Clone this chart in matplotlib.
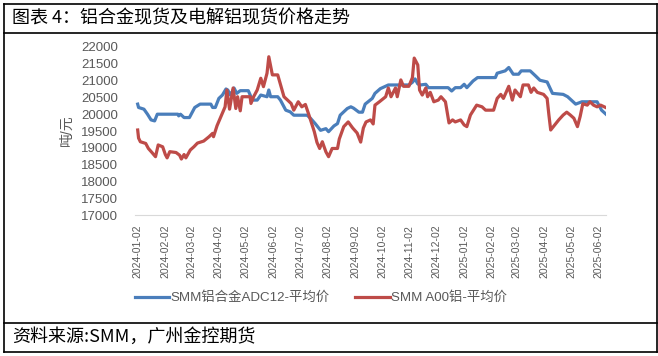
import matplotlib
matplotlib.use('Agg')
import matplotlib.pyplot as plt
from matplotlib.lines import Line2D
import pandas as pd

plt.rcParams['font.family'] = ['Liberation Sans', 'Noto Sans CJK SC', 'DejaVu Sans']

# 数据: 距 2024-01-02 的天数, 价格(元/吨)
base = pd.Timestamp('2024-01-02')

adc12_day = [0, 1, 7, 11, 15, 19, 22, 45, 46, 48, 52, 58, 62, 64, 67, 70, 82, 84, 87, 91,
             95, 99, 101, 104, 108, 111, 115, 124, 127, 129, 134, 138, 145, 147, 149, 157,
             160, 166, 171, 175, 190, 194, 199, 205, 211, 214, 220, 224, 227, 235, 239, 242,
             248, 252, 255, 263, 266, 272, 281, 304, 308, 311, 314, 317, 323, 326, 348, 352,
             356, 362, 366, 369, 376, 381, 401, 403, 412, 416, 421, 427, 430, 440, 446, 451,
             459, 465, 477, 482, 491, 498, 515, 520, 525]
adc12_val = [20300, 20200, 20150, 20000, 19830, 19800, 20000, 20000, 19950, 20000, 19900,
             19900, 20100, 20200, 20250, 20300, 20300, 20200, 20200, 20470, 20570, 20750,
             20720, 20570, 20780, 20620, 20700, 20700, 20520, 20420, 20420, 20570, 20520,
             20720, 20520, 20520, 20420, 20120, 20070, 19970, 19970, 19870, 19720, 19520,
             19570, 19480, 19650, 19720, 19970, 20170, 20220, 20180, 20060, 20060, 20300,
             20470, 20620, 20760, 20870, 20870, 20950, 21050, 20900, 20870, 20890, 20790,
             20790, 20690, 20790, 20790, 20890, 20790, 20990, 21090, 21090, 21220, 21290,
             21390, 21190, 21190, 21290, 21290, 21140, 21010, 20960, 20620, 20590, 20520,
             20300, 20370, 20370, 20120, 20000]

a00_day = [0, 1, 3, 9, 12, 16, 20, 23, 28, 31, 33, 36, 43, 47, 49, 52, 54, 59, 63, 67, 74,
           80, 84, 85, 89, 94, 98, 100, 103, 107, 110, 112, 115, 117, 126, 127, 130, 134,
           138, 141, 145, 147, 151, 157, 164, 168, 172, 175, 180, 184, 188, 192, 198, 201,
           204, 207, 211, 214, 218, 224, 226, 231, 236, 241, 246, 250, 253, 256, 261, 264,
           266, 271, 278, 281, 284, 289, 291, 295, 298, 304, 308, 310, 314, 316, 319, 323,
           325, 328, 332, 337, 340, 345, 349, 353, 356, 362, 366, 369, 373, 380, 386, 390,
           399, 403, 407, 410, 416, 420, 423, 429, 432, 438, 441, 444, 448, 455, 459, 461,
           463, 466, 472, 477, 481, 485, 489, 493, 496, 499, 504, 507, 511, 515, 519, 525]
a00_val = [19530, 19290, 19180, 19130, 18980, 18860, 18735, 19085, 19030, 18800, 18700,
           18885, 18860, 18780, 18665, 18800, 18700, 18935, 19030, 19140, 19200, 19330,
           19430, 19330, 19660, 19975, 20220, 20720, 20150, 20780, 20170, 20520, 20100,
           20520, 20520, 20320, 20520, 20720, 21070, 20820, 21220, 21710, 21170, 21170,
           20520, 20420, 20320, 20120, 20370, 20220, 20290, 19975, 19480, 19160, 18980,
           19180, 18880, 18735, 18980, 18980, 19260, 19630, 19770, 19590, 19440, 19170,
           19590, 19770, 19830, 19710, 20270, 20370, 20520, 20780, 20520, 20780, 20520,
           21020, 20830, 20830, 21090, 21670, 21465, 20720, 20570, 20780, 20520, 20650,
           20370, 20420, 20520, 20370, 19740, 19830, 19770, 19830, 19680, 19630, 19975,
           20270, 20220, 20120, 20120, 20470, 20590, 20470, 20830, 20420, 20720, 20520,
           20870, 20870, 20650, 20780, 20650, 20590, 20470, 19975, 19530, 19630, 19830,
           19975, 20060, 19975, 19880, 19630, 19930, 20310, 20270, 20370, 20270, 20220,
           20270, 20195]

tick_labels = ['2024-01-02', '2024-02-02', '2024-03-02', '2024-04-02', '2024-05-02',
               '2024-06-02', '2024-07-02', '2024-08-02', '2024-09-02', '2024-10-02',
               '2024-11-02', '2024-12-02', '2025-01-02', '2025-02-02', '2025-03-02',
               '2025-04-02', '2025-05-02', '2025-06-02']

adc12_dates = [base + pd.Timedelta(days=d) for d in adc12_day]
a00_dates = [base + pd.Timedelta(days=d) for d in a00_day]

fig = plt.figure(figsize=(6.58, 3.56), dpi=100)
ax = fig.add_axes([135 / 658, 1 - 215 / 356, 471 / 658, 168 / 356])

blue = '#4A7EBB'
red = '#BE4B48'
ax.plot(adc12_dates, adc12_val, color=blue, lw=2.3, label='SMM铝合金ADC12-平均价')
ax.plot(a00_dates, a00_val, color=red, lw=2.3, label='SMM A00铝-平均价')

ax.set_ylim(17000, 22000)
ax.set_yticks(range(17000, 22001, 500))
ax.set_xlim(base - pd.Timedelta(days=3), base + pd.Timedelta(days=525))
ax.set_xticks([pd.Timestamp(t) for t in tick_labels])
ax.set_xticklabels(tick_labels, rotation=90, fontsize=7.5, color='#595959')
ax.tick_params(axis='y', labelsize=9.5, labelcolor='#595959', length=0, pad=12)
ax.tick_params(axis='x', length=0, pad=7)

for s in ['top', 'right', 'left']:
    ax.spines[s].set_visible(False)
ax.spines['bottom'].set_color('#D9D9D9')

fig.text(67 / 658, 1 - 130 / 356, '吨/元', rotation=90, ha='center', va='center',
         fontsize=10, color='#595959')

leg = ax.legend(loc='center', bbox_to_anchor=(321 / 658, 1 - 298 / 356),
                bbox_transform=fig.transFigure, ncol=2, frameon=False,
                fontsize=9.6, handlelength=2.6, columnspacing=1.9, handletextpad=0.1)
for t in leg.get_texts():
    t.set_color('#595959')

# 外框
lc = 'black'
fig.add_artist(Line2D([4 / 658, 657 / 658], [1 - 3.5 / 356, 1 - 3.5 / 356], color=lc, lw=1.2))
fig.add_artist(Line2D([4 / 658, 657 / 658], [1 - 32.5 / 356, 1 - 32.5 / 356], color=lc, lw=1.2))
fig.add_artist(Line2D([4 / 658, 657 / 658], [1 - 322.5 / 356, 1 - 322.5 / 356], color=lc, lw=1.2))
fig.add_artist(Line2D([4 / 658, 657 / 658], [1 - 351.5 / 356, 1 - 351.5 / 356], color=lc, lw=1.2))
fig.add_artist(Line2D([4 / 658, 4 / 658], [1 - 3.5 / 356, 1 - 351.5 / 356], color=lc, lw=1.2))
fig.add_artist(Line2D([657 / 658, 657 / 658], [1 - 3.5 / 356, 1 - 351.5 / 356], color=lc, lw=1.2))

fig.text(12 / 658, 1 - 18 / 356, '图表 4：铝合金现货及电解铝现货价格走势', ha='left', va='center',
         fontsize=13, family=['Noto Sans CJK SC', 'DejaVu Sans'])
fig.text(12 / 658, 1 - 337 / 356, '资料来源:SMM，广州金控期货', ha='left', va='center',
         fontsize=13, family=['Noto Sans CJK SC', 'DejaVu Sans'])

fig.savefig('out.png', dpi=100)
